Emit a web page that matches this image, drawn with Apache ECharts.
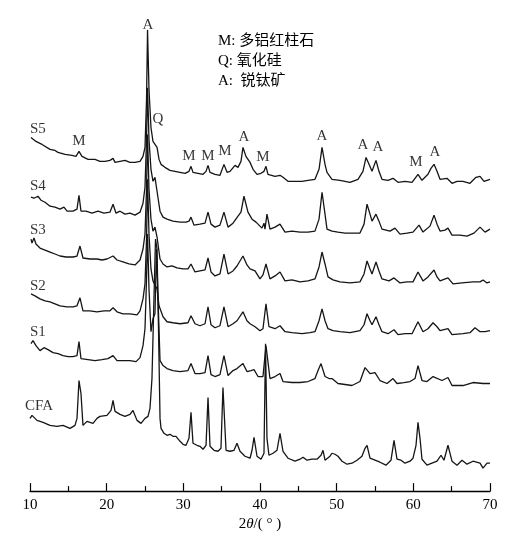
<!DOCTYPE html>
<html>
<head>
<meta charset="utf-8">
<script src="https://cdn.jsdelivr.net/npm/echarts@6/dist/echarts.min.js"></script>
<style>
  html, body { margin: 0; padding: 0; background: #fff; }
  #chart { width: 507px; height: 537px; }
</style>
</head>
<body>
<div id="chart"></div>
<script>
// XRD 图谱数据：[2θ, 相对强度]（已按曲线堆叠偏移）
const s5 = [[10.13,355],[10.78,351],[11.3,349],[11.57,348],[12.61,343],[13.26,342],[13.65,340],[14.57,338],[15.48,337],[16.0,336],[16.39,341],[16.78,336],[17.57,333],[18.48,333],[19.13,331],[19.78,331],[20.43,332],[20.83,334],[21.09,330],[21.74,331],[22.39,332],[23.04,330],[23.7,330],[24.35,331],[24.74,336],[25.0,345],[25.2,393],[25.33,463],[25.52,403],[25.78,365],[26.04,351],[26.3,353],[26.57,345],[26.83,333],[27.09,328],[27.6,325],[28.26,322],[28.91,321],[29.57,320],[30.22,319],[30.74,321],[31.0,326],[31.26,320],[31.91,319],[32.57,318],[32.96,321],[33.22,327],[33.48,320],[34.13,318],[34.78,317],[35.3,328],[35.7,320],[36.09,321],[36.74,327],[37.13,325],[37.52,331],[37.78,345],[38.17,336],[38.7,330],[39.09,323],[39.61,318],[40.13,319],[40.52,321],[40.78,326],[41.04,318],[41.3,316],[41.96,316],[42.61,317],[43.0,315],[43.65,311],[44.57,311],[45.48,311],[46.26,312],[47.17,313],[47.7,323],[48.09,345],[48.48,328],[48.74,320],[49.39,313],[50.43,312],[51.74,310],[52.78,313],[53.43,321],[53.83,335],[54.22,328],[54.61,321],[55.13,332],[55.52,321],[55.91,313],[56.7,312],[57.35,314],[58.0,310],[58.91,311],[59.83,310],[60.61,318],[61.13,312],[61.91,318],[62.3,324],[62.7,328],[63.09,321],[63.48,313],[64.39,314],[65.04,309],[65.7,311],[66.48,311],[67.39,309],[68.17,315],[68.7,316],[69.22,311],[70.0,313]];

const s4 = [[10.13,295],[10.52,294],[11.04,296],[11.43,292],[11.96,290],[12.61,286],[13.26,285],[13.91,283],[14.43,285],[14.83,281],[15.61,281],[16.13,283],[16.39,297],[16.65,281],[17.3,281],[18.09,279],[18.87,281],[19.65,279],[20.43,280],[20.83,288],[21.22,279],[21.74,281],[22.39,278],[23.04,279],[23.7,277],[24.35,280],[24.74,289],[25.0,305],[25.2,353],[25.33,405],[25.52,353],[25.78,323],[26.04,311],[26.3,315],[26.43,313],[26.57,301],[26.96,281],[27.35,275],[27.87,273],[28.65,271],[29.57,270],[30.35,270],[30.74,271],[31.0,275],[31.39,267],[32.17,268],[32.83,269],[33.22,280],[33.61,268],[34.13,265],[34.78,267],[35.3,280],[35.83,265],[36.48,269],[37.13,276],[37.52,280],[37.91,296],[38.43,280],[38.96,273],[39.48,270],[40.26,264],[40.52,269],[40.65,263],[40.91,278],[41.3,263],[41.96,265],[42.61,268],[43.26,260],[44.17,261],[45.22,260],[46.26,260],[47.17,261],[47.7,273],[48.09,300],[48.48,278],[48.74,263],[49.39,261],[50.17,260],[51.09,259],[52.0,259],[53.04,259],[53.57,268],[53.96,288],[54.35,278],[54.61,271],[55.13,278],[55.52,271],[55.91,263],[56.96,261],[57.61,264],[58.26,258],[59.17,259],[59.96,260],[60.74,267],[61.26,260],[62.17,266],[62.7,277],[63.09,268],[63.48,261],[64.13,262],[64.52,264],[65.04,257],[66.09,257],[67.0,256],[67.91,259],[68.7,265],[69.35,260],[70.0,263]];

const s3 = [[10.13,253],[10.26,249],[10.52,254],[10.78,248],[11.3,244],[11.96,242],[12.61,240],[13.26,238],[13.91,236],[14.7,235],[15.61,235],[16.13,236],[16.52,246],[16.91,234],[17.83,233],[18.74,233],[19.39,232],[20.04,233],[20.83,236],[21.35,232],[22.13,230],[22.91,228],[23.7,227],[24.35,232],[24.74,243],[25.0,258],[25.2,303],[25.33,358],[25.52,303],[25.78,273],[26.04,261],[26.3,265],[26.57,255],[26.96,233],[27.35,228],[27.87,225],[28.52,226],[29.17,224],[29.96,223],[30.61,223],[31.0,228],[31.52,220],[32.17,221],[32.83,222],[33.22,234],[33.61,220],[34.13,216],[34.78,218],[35.3,238],[35.83,218],[36.48,221],[37.0,226],[37.78,236],[38.3,227],[38.7,223],[39.35,221],[40.0,213],[40.39,217],[40.78,228],[41.3,213],[41.96,216],[42.61,220],[43.26,211],[44.17,212],[45.22,210],[46.26,211],[47.17,213],[47.7,225],[48.09,240],[48.48,228],[48.87,215],[49.52,212],[50.43,210],[51.74,209],[53.04,210],[53.57,218],[53.96,231],[54.35,223],[54.61,218],[55.13,230],[55.52,221],[55.91,213],[56.83,211],[57.48,214],[58.26,209],[59.17,210],[59.96,210],[60.61,220],[61.26,211],[61.91,215],[62.7,222],[63.09,215],[63.48,211],[64.52,214],[65.17,208],[66.35,209],[67.78,210],[68.7,210],[69.09,212],[69.61,209],[70.0,210]];

const s2 = [[10.13,198],[10.65,196],[11.3,193],[11.96,191],[12.61,190],[13.26,188],[13.91,186],[14.83,185],[15.61,185],[16.13,186],[16.52,194],[16.91,181],[17.83,181],[18.74,180],[19.65,181],[20.43,181],[20.83,184],[21.35,180],[22.13,178],[23.04,178],[23.96,177],[24.35,181],[24.74,193],[25.0,208],[25.2,253],[25.33,313],[25.52,258],[25.78,223],[26.04,211],[26.3,213],[26.57,203],[26.83,186],[27.35,175],[27.87,170],[28.65,169],[29.57,168],[30.61,169],[31.0,176],[31.52,168],[32.17,166],[32.83,168],[33.22,185],[33.61,167],[34.13,164],[34.78,166],[35.3,185],[35.83,165],[36.48,168],[37.0,171],[37.78,180],[38.3,171],[38.7,168],[39.35,165],[40.0,161],[40.39,163],[40.78,188],[41.17,165],[41.96,163],[42.61,166],[43.26,160],[44.17,159],[45.48,158],[46.52,159],[47.17,160],[47.7,171],[48.09,183],[48.48,171],[48.87,163],[49.52,161],[50.43,160],[51.74,159],[53.04,161],[53.57,167],[53.96,178],[54.35,171],[54.61,167],[55.13,175],[55.52,167],[55.91,160],[56.7,158],[57.48,162],[58.0,157],[58.91,158],[59.83,158],[60.61,170],[61.26,160],[61.91,163],[62.57,169],[63.09,165],[63.48,161],[64.52,163],[65.04,157],[66.48,158],[67.39,159],[68.04,164],[68.7,160],[69.35,160],[70.0,161]];

const s1 = [[10.13,148],[10.39,151],[10.78,146],[11.3,141],[11.83,144],[12.35,142],[13.0,139],[13.65,138],[14.3,136],[14.96,135],[15.61,135],[16.13,136],[16.39,150],[16.65,133],[17.57,132],[18.48,131],[19.39,132],[20.17,133],[20.83,136],[21.35,131],[22.13,131],[23.04,131],[23.83,130],[24.35,134],[24.74,146],[25.0,163],[25.2,213],[25.33,258],[25.52,203],[25.78,160],[26.04,173],[26.3,178],[26.5,243],[26.7,193],[26.96,131],[27.35,126],[27.87,123],[28.65,121],[29.57,120],[30.61,121],[31.0,128],[31.52,118],[32.17,118],[32.83,119],[33.22,136],[33.61,117],[34.13,115],[34.78,117],[35.3,136],[35.83,116],[36.48,121],[37.0,123],[37.78,128],[38.3,120],[38.83,121],[39.22,122],[39.74,115],[40.39,115],[40.78,146],[41.3,113],[41.96,115],[42.61,118],[43.0,110],[44.17,109],[45.22,109],[46.26,110],[47.17,113],[47.57,121],[47.96,128],[48.48,115],[49.0,113],[49.39,113],[50.17,108],[51.09,107],[52.0,106],[53.04,110],[53.7,124],[54.35,118],[55.0,119],[55.65,111],[56.57,108],[57.35,113],[57.87,108],[58.78,109],[59.57,110],[60.22,113],[60.61,126],[61.13,111],[61.78,110],[62.57,115],[63.74,111],[64.52,114],[65.04,106],[66.48,106],[67.78,109],[69.09,108],[70.0,108]];

const cfa = [[10.0,73],[10.26,76],[10.91,71],[11.7,69],[12.61,66],[13.52,65],[14.3,66],[15.22,63],[15.87,66],[16.13,73],[16.39,111],[16.52,113],[16.65,98],[16.91,66],[17.43,70],[18.22,68],[18.74,73],[19.13,75],[20.04,76],[20.57,81],[20.83,91],[21.09,80],[21.74,77],[22.39,75],[23.04,77],[23.43,81],[23.57,83],[23.96,71],[24.48,68],[25.0,73],[25.39,75],[25.65,83],[25.91,113],[26.17,193],[26.37,253],[26.57,243],[26.76,163],[26.96,73],[27.09,63],[27.48,58],[27.87,56],[28.26,57],[28.65,55],[29.04,55],[29.57,50],[29.96,47],[30.35,46],[30.74,53],[31.0,79],[31.26,48],[31.78,46],[32.17,45],[32.57,42],[32.96,46],[33.22,94],[33.48,45],[34.0,41],[34.52,40],[34.91,43],[35.17,104],[35.57,41],[36.09,40],[36.61,41],[37.0,48],[37.39,40],[38.04,35],[38.7,33],[38.96,41],[39.22,54],[39.61,35],[40.13,32],[40.52,38],[40.72,148],[40.91,53],[41.17,36],[41.7,38],[42.22,41],[42.61,58],[43.0,40],[43.65,33],[44.57,30],[45.22,32],[45.61,34],[46.13,31],[46.78,32],[47.43,32],[47.96,36],[48.22,41],[48.48,31],[49.13,35],[49.39,38],[49.78,37],[50.17,35],[50.7,30],[51.35,27],[52.0,28],[52.65,31],[53.3,35],[53.7,43],[53.96,46],[54.35,33],[55.0,31],[55.65,29],[56.43,26],[57.09,31],[57.48,51],[57.87,32],[58.39,31],[58.91,28],[59.57,30],[59.96,33],[60.35,46],[60.61,69],[60.87,53],[61.13,32],[61.78,26],[62.43,28],[63.09,30],[63.61,36],[64.0,31],[64.52,46],[65.04,30],[65.7,26],[66.35,31],[67.0,27],[67.78,30],[68.7,28],[69.09,23],[69.61,28],[70.0,28]];

// 曲线名称及其标注位置
const seriesNames = ['S5', 'S4', 'S3', 'S2', 'S1', 'CFA'];
const nameSpots = [[10.0,363],[10.0,306],[10.0,262],[10.0,206],[10.0,160],[10.0,85]];

// 物相标注 [2θ, 高度, 符号]
const peakMarks = [[25.39,468,'A'],[26.7,373,'Q'],[16.39,351,'M'],[30.74,336,'M'],[33.22,336,'M'],[35.43,341,'M'],[37.91,355,'A'],[40.39,335,'M'],[48.09,356,'A'],[53.43,347,'A'],[55.39,345,'A'],[60.35,330,'M'],[62.83,340,'A']];

const legendLines = ['M: 多铝红柱石', 'Q: 氧化硅', 'A:  锐钛矿'];

const SERIF = '"Liberation Serif", "Times New Roman", "Noto Sans CJK SC", serif';

const chart = echarts.init(document.getElementById('chart'));

const curves = [s5, s4, s3, s2, s1, cfa].map((d, i) => ({
  name: seriesNames[i],
  type: 'line',
  data: d,
  showSymbol: false,
  silent: true,
  lineStyle: { color: '#151515', width: 1.3 },
  animation: false
}));

chart.setOption({
  animation: false,
  grid: { left: 30, right: 17, top: 0, bottom: 44 },
  xAxis: {
    type: 'value',
    min: 10,
    max: 70,
    interval: 10,
    name: '{n|2}{i|θ}{n|/( ° )}',
    nameLocation: 'middle',
    nameGap: 24,
    nameTextStyle: {
      rich: {
        n: { fontFamily: SERIF, fontSize: 15, color: '#000' },
        i: { fontFamily: SERIF, fontSize: 15, fontStyle: 'italic', color: '#000' }
      }
    },
    axisLine: { lineStyle: { color: '#000', width: 1.3 } },
    axisTick: { inside: true, length: 8, lineStyle: { color: '#000', width: 1.2 } },
    minorTick: { show: true, splitNumber: 2, length: 5, lineStyle: { color: '#000', width: 1.2 } },
    axisLabel: { color: '#000', fontFamily: SERIF, fontSize: 15, margin: 6 },
    splitLine: { show: false }
  },
  yAxis: {
    type: 'value',
    min: 0,
    max: 493,
    show: false
  },
  series: curves.concat([
    {
      type: 'scatter',
      silent: true,
      symbolSize: 0,
      clip: false,
      data: peakMarks,
      label: {
        show: true,
        position: 'inside',
        formatter: p => p.value[2],
        color: '#000',
        fontFamily: SERIF,
        fontSize: 15
      }
    },
    {
      type: 'scatter',
      silent: true,
      symbolSize: 0,
      clip: false,
      data: nameSpots.map((p, i) => ({
        value: [p[0], p[1], seriesNames[i]],
        label: { offset: [seriesNames[i] === 'CFA' ? -5 : 0, 0] }
      })),
      label: {
        show: true,
        position: 'right',
        distance: 0,
        formatter: p => p.value[2],
        color: '#000',
        fontFamily: SERIF,
        fontSize: 15
      }
    }
  ]),
  graphic: legendLines.map((t, i) => ({
    type: 'text',
    left: 218,
    top: 34 + i * 20,
    style: { text: t, fill: '#000', font: '15px ' + SERIF }
  }))
});
</script>
</body>
</html>
